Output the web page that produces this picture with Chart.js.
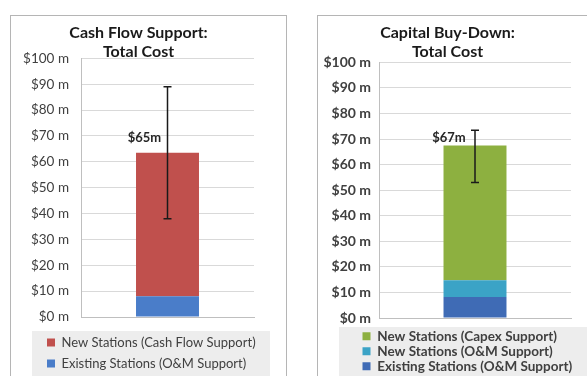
<!DOCTYPE html>
<html>
<head>
<meta charset="utf-8">
<script src="https://cdn.jsdelivr.net/npm/chart.js@4"></script>
<style>
	html, body { margin: 0; padding: 0; background: #fff; overflow: hidden; }
	body { width: 587px; height: 376px; position: relative; }
	.panel { position: absolute; border: 1px solid #b5b5b5; background: #fff; }
	#left-panel { left: 10px; top: 15px; width: 275px; height: 380px; }
	#right-panel { left: 317px; top: 15px; width: 290px; height: 380px; }
</style>
</head>
<body>
<div class="panel" id="left-panel"><canvas id="cash-flow-chart" width="275" height="368"></canvas></div>
<div class="panel" id="right-panel"><canvas id="capital-chart" width="290" height="369"></canvas></div>
<script>
// values in $ millions
const categories = ["Total Cost"];

// cash flow support
const cashflow_existing_om = [8];
const cashflow_new_stations = [55.5];
const cashflow_err_low = [38];
const cashflow_err_high = [89];
const cashflow_total_label = ["$65m"];

// capital buy-down
const capital_existing_om = [8.2];
const capital_new_om = [6.6];
const capital_new_capex = [52.7];
const capital_err_low = [53];
const capital_err_high = [73.5];
const capital_total_label = ["$67m"];

const y_ticks = [0, 10, 20, 30, 40, 50, 60, 70, 80, 90, 100];

const font_family = "Lato, 'Open Sans', sans-serif";
Chart.defaults.font.family = font_family;
Chart.defaults.color = "#404040";

// grey box behind the legend, and legend moved to the left like excel does
const legend_box = {
	id: "legend_box",
	afterLayout(chart, args, opts) {
		const lg = chart.legend;
		const w = lg.right - lg.left;
		lg.left = opts.itemsLeft;
		lg.right = lg.left + w;
	},
	beforeDraw(chart, args, opts) {
		const ctx = chart.ctx;
		ctx.save();
		ctx.fillStyle = "#ededed";
		ctx.fillRect(opts.left, chart.chartArea.bottom + opts.gap, opts.right - opts.left, chart.height);
		ctx.restore();
	},
};

// error bar and total label, placed through the scales
const error_bars = {
	id: "error_bars",
	afterDatasetsDraw(chart, args, opts) {
		const ctx = chart.ctx;
		const xs = chart.scales.x;
		const ys = chart.scales.y;
		opts.low.forEach((lo, i) => {
			const x = xs.getPixelForValue(i);
			const yLo = ys.getPixelForValue(lo);
			const yHi = ys.getPixelForValue(opts.high[i]);
			ctx.save();
			ctx.strokeStyle = "#1a1a1a";
			ctx.lineWidth = 1.5;
			ctx.beginPath();
			ctx.moveTo(x, yLo);
			ctx.lineTo(x, yHi);
			ctx.moveTo(x - 4, yLo);
			ctx.lineTo(x + 4, yLo);
			ctx.moveTo(x - 4, yHi);
			ctx.lineTo(x + 4, yHi);
			ctx.stroke();
			// total label sits left of the bar, just above its top
			let total = 0;
			chart.data.datasets.forEach((ds) => (total += ds.data[i]));
			ctx.fillStyle = "#262626";
			ctx.font = "bold 13px " + font_family;
			ctx.textAlign = "center";
			ctx.textBaseline = "middle";
			ctx.fillText(opts.labels[i], x - opts.labelShift, ys.getPixelForValue(total) - opts.labelRise);
			ctx.restore();
		});
	},
};

function make_options(cfg) {
	return {
		responsive: false,
		animation: false,
		layout: { padding: { left: cfg.padLeft, right: cfg.padRight, top: 0, bottom: cfg.padBottom } },
		plugins: {
			title: {
				display: true,
				text: cfg.title,
				color: "#1a1a1a",
				font: { size: 16, weight: "bold" },
				padding: { top: 7, bottom: cfg.titleBottom },
				lineHeight: 1.15,
			},
			legend: {
				position: "bottom",
				reverse: true,
				align: "start",
				labels: {
					boxWidth: 8,
					boxHeight: 8,
					padding: cfg.legendPad,
					color: "#404040",
					font: { size: cfg.bold ? 13.5 : 13, weight: cfg.bold ? "bold" : "normal" },
				},
			},
			tooltip: { enabled: false },
			legend_box: cfg.legendBox,
			error_bars: cfg.err,
		},
		scales: {
			x: {
				stacked: true,
				ticks: { display: false },
				grid: { display: false },
				border: { color: "#bfbfbf" },
				afterFit: (axis) => {
					axis.height = cfg.xGap;
				},
			},
			y: {
				stacked: true,
				min: 0,
				max: 100,
				afterBuildTicks: (axis) => {
					axis.ticks = y_ticks.map((v) => ({ value: v }));
				},
				afterFit: (axis) => {
					axis.width = cfg.axisWidth;
				},
				ticks: {
					padding: cfg.tickPad,
					callback: (v) => "$" + v + " m",
					color: "#404040",
					font: { size: cfg.bold ? 14 : 13.5, weight: cfg.bold ? "bold" : "normal" },
				},
				grid: { color: "#d9d9d9", drawTicks: false },
				border: { color: "#bfbfbf" },
			},
		},
	};
}

new Chart(document.getElementById("cash-flow-chart").getContext("2d"), {
	type: "bar",
	data: {
		labels: categories,
		datasets: [
			{
				label: "Existing Stations (O&M Support)",
				data: cashflow_existing_om,
				backgroundColor: "#4a7dc9",
				barPercentage: 0.364,
				categoryPercentage: 1,
			},
			{
				label: "New Stations (Cash Flow Support)",
				data: cashflow_new_stations,
				backgroundColor: "#c0504d",
				barPercentage: 0.364,
				categoryPercentage: 1,
			},
		],
	},
	options: make_options({
		title: ["Cash Flow Support:", "Total Cost"],
		bold: false,
		padLeft: 12,
		padRight: 32,
		padBottom: 4,
		titleBottom: -3,
		xGap: 11,
		axisWidth: 58,
		tickPad: 12,
		legendPad: 8,
		legendBox: { left: 21, right: 259, gap: 14, itemsLeft: 28 },
		err: { low: cashflow_err_low, high: cashflow_err_high, labels: cashflow_total_label, labelShift: 23, labelRise: 15 },
	}),
	plugins: [legend_box, error_bars],
});

new Chart(document.getElementById("capital-chart").getContext("2d"), {
	type: "bar",
	data: {
		labels: categories,
		datasets: [
			{
				label: "Existing Stations (O&M Support)",
				data: capital_existing_om,
				backgroundColor: "#3f6bb5",
				barPercentage: 0.328,
				categoryPercentage: 1,
			},
			{
				label: "New Stations (O&M Support)",
				data: capital_new_om,
				backgroundColor: "#3ba3c6",
				barPercentage: 0.328,
				categoryPercentage: 1,
			},
			{
				label: "New Stations (Capex Support)",
				data: capital_new_capex,
				backgroundColor: "#8db040",
				barPercentage: 0.328,
				categoryPercentage: 1,
			},
		],
	},
	options: make_options({
		title: ["Capital Buy-Down:", "Total Cost"],
		bold: true,
		padLeft: 6,
		padRight: 37,
		padBottom: 2,
		titleBottom: 1,
		xGap: 10,
		axisWidth: 55,
		tickPad: 8,
		legendPad: 1.5,
		legendBox: { left: 21, right: 290, gap: 9, itemsLeft: 43 },
		err: { low: capital_err_low, high: capital_err_high, labels: capital_total_label, labelShift: 26, labelRise: 8 },
	}),
	plugins: [legend_box, error_bars],
});
</script>
</body>
</html>
